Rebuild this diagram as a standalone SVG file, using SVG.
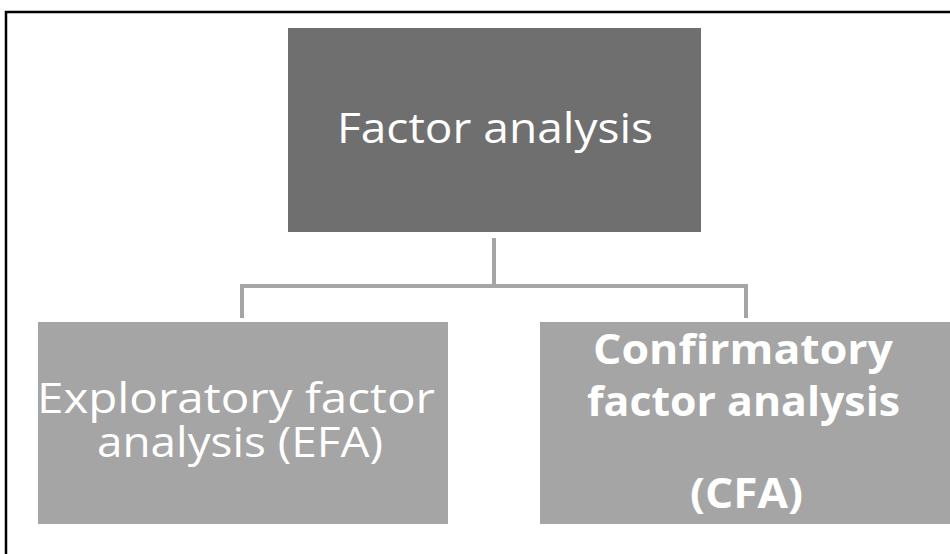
<svg xmlns="http://www.w3.org/2000/svg" width="950" height="554" viewBox="0 0 950 554">
<style>
.t{font-family:"Open Sans","Noto Sans","Liberation Sans",sans-serif;font-size:42px;fill:#ffffff}
.b{font-weight:bold}
.c{fill:none;stroke:#a5a5a5;stroke-width:4}
</style>
<rect x="0" y="0" width="950" height="554" fill="#ffffff"/>
<path d="M6,560 V12 H960" fill="none" stroke="#000000" stroke-width="2.5"/>
<g id="connectors">
<path class="c" d="M494,238 V286"/>
<path class="c" d="M242,318 V286 H746 V318"/>
</g>
<g id="factor-analysis">
<rect x="288" y="28" width="413" height="204" fill="#6f6f6f"/>
<text class="t" x="337" y="143" textLength="316" lengthAdjust="spacingAndGlyphs">Factor analysis</text>
</g>
<g id="efa">
<rect x="38" y="322" width="410" height="202" fill="#a5a5a5"/>
<text class="t" x="37" y="413" textLength="398" lengthAdjust="spacingAndGlyphs">Exploratory factor</text>
<text class="t" x="97" y="457" textLength="286" lengthAdjust="spacingAndGlyphs">analysis (EFA)</text>
</g>
<g id="cfa">
<rect x="540" y="322" width="420" height="202" fill="#a5a5a5"/>
<text class="t b" x="593" y="364" textLength="300" lengthAdjust="spacingAndGlyphs">Confirmatory</text>
<text class="t b" x="587" y="416" textLength="313" lengthAdjust="spacingAndGlyphs">factor analysis</text>
<text class="t b" x="690" y="508" textLength="113" lengthAdjust="spacingAndGlyphs">(CFA)</text>
</g>
</svg>
